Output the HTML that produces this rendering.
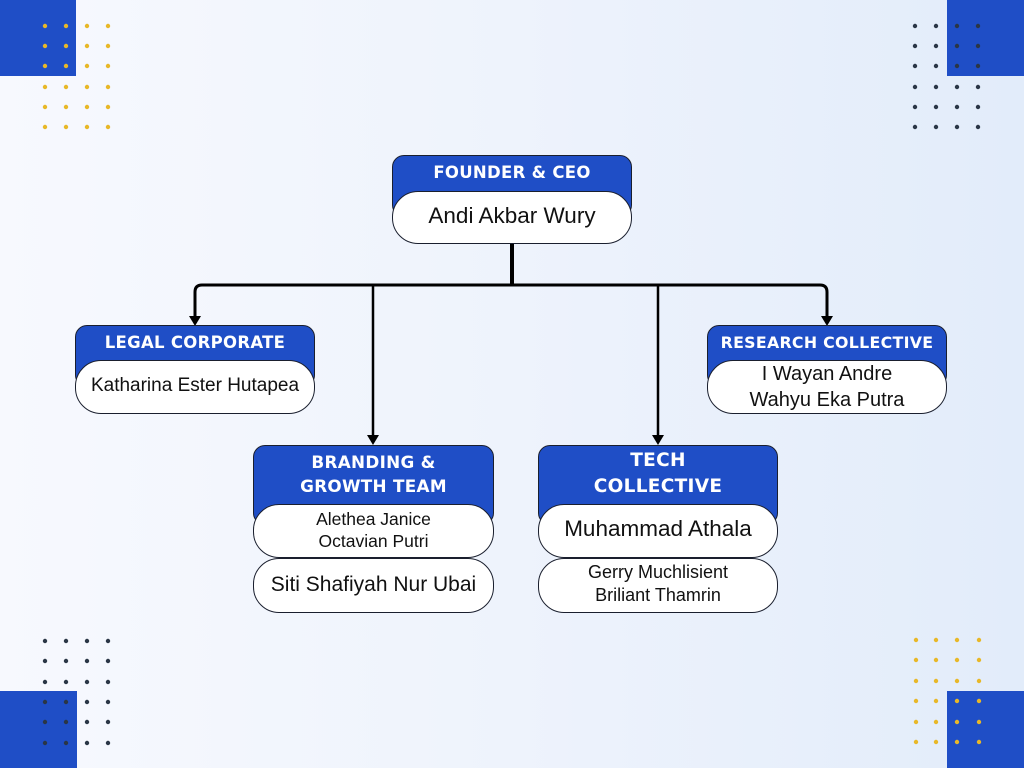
<!DOCTYPE html>
<html>
<head>
<meta charset="utf-8">
<style>
  html,body{margin:0;padding:0;}
  body{width:1024px;height:768px;position:relative;overflow:hidden;
    background:linear-gradient(90deg,#f7f9fe 0%,#eef3fc 50%,#e2ecfa 100%);
    font-family:"Liberation Sans",Arial,sans-serif;}
  .blue{position:absolute;background:#1f4ec6;border:1.3px solid #1a1f2e;border-radius:12px;box-sizing:border-box;}
  .pill{position:absolute;background:#fff;border:1.3px solid #1a1f2e;border-radius:26px;box-sizing:border-box;}
  .t{position:absolute;text-align:center;white-space:nowrap;}
  .h{color:#fff;font-weight:bold;font-family:"DejaVu Sans","Liberation Sans",sans-serif;letter-spacing:0.3px;}
  .n{color:#111;}
  svg{position:absolute;left:0;top:0;}
</style>
</head>
<body>
<svg width="1024" height="768" viewBox="0 0 1024 768">
  <rect x="0" y="0" width="76" height="76" fill="#1f4ec6"/>
  <rect x="947" y="0" width="77" height="76" fill="#1f4ec6"/>
  <rect x="0" y="691" width="77" height="77" fill="#1f4ec6"/>
  <rect x="947" y="691" width="77" height="77" fill="#1f4ec6"/>
  <g fill="#e8b828">
    <circle cx="45" cy="26" r="2.2"/><circle cx="66" cy="26" r="2.2"/><circle cx="87" cy="26" r="2.2"/><circle cx="108" cy="26" r="2.2"/>
    <circle cx="45" cy="46" r="2.2"/><circle cx="66" cy="46" r="2.2"/><circle cx="87" cy="46" r="2.2"/><circle cx="108" cy="46" r="2.2"/>
    <circle cx="45" cy="66" r="2.2"/><circle cx="66" cy="66" r="2.2"/><circle cx="87" cy="66" r="2.2"/><circle cx="108" cy="66" r="2.2"/>
    <circle cx="45" cy="87" r="2.2"/><circle cx="66" cy="87" r="2.2"/><circle cx="87" cy="87" r="2.2"/><circle cx="108" cy="87" r="2.2"/>
    <circle cx="45" cy="107" r="2.2"/><circle cx="66" cy="107" r="2.2"/><circle cx="87" cy="107" r="2.2"/><circle cx="108" cy="107" r="2.2"/>
    <circle cx="45" cy="127" r="2.2"/><circle cx="66" cy="127" r="2.2"/><circle cx="87" cy="127" r="2.2"/><circle cx="108" cy="127" r="2.2"/>

    <circle cx="916" cy="640" r="2.2"/><circle cx="936" cy="640" r="2.2"/><circle cx="957" cy="640" r="2.2"/><circle cx="979" cy="640" r="2.2"/>
    <circle cx="916" cy="660" r="2.2"/><circle cx="936" cy="660" r="2.2"/><circle cx="957" cy="660" r="2.2"/><circle cx="979" cy="660" r="2.2"/>
    <circle cx="916" cy="681" r="2.2"/><circle cx="936" cy="681" r="2.2"/><circle cx="957" cy="681" r="2.2"/><circle cx="979" cy="681" r="2.2"/>
    <circle cx="916" cy="701" r="2.2"/><circle cx="936" cy="701" r="2.2"/><circle cx="957" cy="701" r="2.2"/><circle cx="979" cy="701" r="2.2"/>
    <circle cx="916" cy="722" r="2.2"/><circle cx="936" cy="722" r="2.2"/><circle cx="957" cy="722" r="2.2"/><circle cx="979" cy="722" r="2.2"/>
    <circle cx="916" cy="742" r="2.2"/><circle cx="936" cy="742" r="2.2"/><circle cx="957" cy="742" r="2.2"/><circle cx="979" cy="742" r="2.2"/>
  </g>
  <g fill="#2a3646">
    <circle cx="915" cy="26" r="2.2"/><circle cx="936" cy="26" r="2.2"/><circle cx="957" cy="26" r="2.2"/><circle cx="978" cy="26" r="2.2"/>
    <circle cx="915" cy="46" r="2.2"/><circle cx="936" cy="46" r="2.2"/><circle cx="957" cy="46" r="2.2"/><circle cx="978" cy="46" r="2.2"/>
    <circle cx="915" cy="66" r="2.2"/><circle cx="936" cy="66" r="2.2"/><circle cx="957" cy="66" r="2.2"/><circle cx="978" cy="66" r="2.2"/>
    <circle cx="915" cy="87" r="2.2"/><circle cx="936" cy="87" r="2.2"/><circle cx="957" cy="87" r="2.2"/><circle cx="978" cy="87" r="2.2"/>
    <circle cx="915" cy="107" r="2.2"/><circle cx="936" cy="107" r="2.2"/><circle cx="957" cy="107" r="2.2"/><circle cx="978" cy="107" r="2.2"/>
    <circle cx="915" cy="127" r="2.2"/><circle cx="936" cy="127" r="2.2"/><circle cx="957" cy="127" r="2.2"/><circle cx="978" cy="127" r="2.2"/>

    <circle cx="45" cy="641" r="2.2"/><circle cx="66" cy="641" r="2.2"/><circle cx="87" cy="641" r="2.2"/><circle cx="108" cy="641" r="2.2"/>
    <circle cx="45" cy="661" r="2.2"/><circle cx="66" cy="661" r="2.2"/><circle cx="87" cy="661" r="2.2"/><circle cx="108" cy="661" r="2.2"/>
    <circle cx="45" cy="682" r="2.2"/><circle cx="66" cy="682" r="2.2"/><circle cx="87" cy="682" r="2.2"/><circle cx="108" cy="682" r="2.2"/>
    <circle cx="45" cy="702" r="2.2"/><circle cx="66" cy="702" r="2.2"/><circle cx="87" cy="702" r="2.2"/><circle cx="108" cy="702" r="2.2"/>
    <circle cx="45" cy="722" r="2.2"/><circle cx="66" cy="722" r="2.2"/><circle cx="87" cy="722" r="2.2"/><circle cx="108" cy="722" r="2.2"/>
    <circle cx="45" cy="743" r="2.2"/><circle cx="66" cy="743" r="2.2"/><circle cx="87" cy="743" r="2.2"/><circle cx="108" cy="743" r="2.2"/>
  </g>

  <!-- connectors -->
  <g stroke="#000" fill="none">
    <line x1="512" y1="243" x2="512" y2="285" stroke-width="4"/>
    <path d="M195 318 V292 Q195 285 202 285 H820 Q827 285 827 292 V318" stroke-width="3"/>
    <line x1="373" y1="285" x2="373" y2="437" stroke-width="2.5"/>
    <line x1="658" y1="285" x2="658" y2="437" stroke-width="2.5"/>
  </g>
  <g fill="#000">
    <polygon points="189,316 201,316 195,326"/>
    <polygon points="821,316 833,316 827,326"/>
    <polygon points="367,435 379,435 373,445"/>
    <polygon points="652,435 664,435 658,445"/>
  </g>
</svg>

<!-- Founder -->
<div class="blue" style="left:392px;top:155px;width:240px;height:62px;"></div>
<div class="pill" style="left:392px;top:191px;width:240px;height:53px;"></div>
<div class="t h" style="left:392px;width:240px;top:163px;line-height:20px;font-size:16.5px;">FOUNDER &amp; CEO</div>
<div class="t n" style="left:392px;width:240px;top:203px;line-height:26px;font-size:22.5px;">Andi Akbar Wury</div>

<!-- Legal -->
<div class="blue" style="left:75px;top:325px;width:240px;height:62px;"></div>
<div class="pill" style="left:75px;top:360px;width:240px;height:54px;"></div>
<div class="t h" style="left:75px;width:240px;top:333px;line-height:20px;font-size:16.5px;">LEGAL CORPORATE</div>
<div class="t n" style="left:75px;width:240px;top:374px;line-height:24px;font-size:19px;">Katharina Ester Hutapea</div>

<!-- Research -->
<div class="blue" style="left:707px;top:325px;width:240px;height:62px;"></div>
<div class="pill" style="left:707px;top:360px;width:240px;height:54px;"></div>
<div class="t h" style="left:707px;width:240px;top:333px;line-height:20px;font-size:15.8px;">RESEARCH COLLECTIVE</div>
<div class="t n" style="left:707px;width:240px;top:361px;line-height:26px;font-size:20px;">I Wayan Andre<br>Wahyu Eka Putra</div>

<!-- Branding -->
<div class="blue" style="left:253px;top:445px;width:241px;height:80px;"></div>
<div class="pill" style="left:253px;top:504px;width:241px;height:54px;"></div>
<div class="pill" style="left:253px;top:558px;width:241px;height:55px;"></div>
<div class="t h" style="left:253px;width:241px;top:450px;line-height:24px;font-size:16.8px;">BRANDING &amp;<br>GROWTH TEAM</div>
<div class="t n" style="left:253px;width:241px;top:508px;line-height:22px;font-size:17.5px;">Alethea Janice<br>Octavian Putri</div>
<div class="t n" style="left:253px;width:241px;top:572px;line-height:26px;font-size:21px;">Siti Shafiyah Nur Ubai</div>

<!-- Tech -->
<div class="blue" style="left:538px;top:445px;width:240px;height:80px;"></div>
<div class="pill" style="left:538px;top:504px;width:240px;height:54px;"></div>
<div class="pill" style="left:538px;top:558px;width:240px;height:55px;"></div>
<div class="t h" style="left:538px;width:240px;top:448px;line-height:26px;font-size:18.5px;">TECH<br>COLLECTIVE</div>
<div class="t n" style="left:538px;width:240px;top:516px;line-height:26px;font-size:22.5px;">Muhammad Athala</div>
<div class="t n" style="left:538px;width:240px;top:561px;line-height:23px;font-size:18px;">Gerry Muchlisient<br>Briliant Thamrin</div>
</body>
</html>
